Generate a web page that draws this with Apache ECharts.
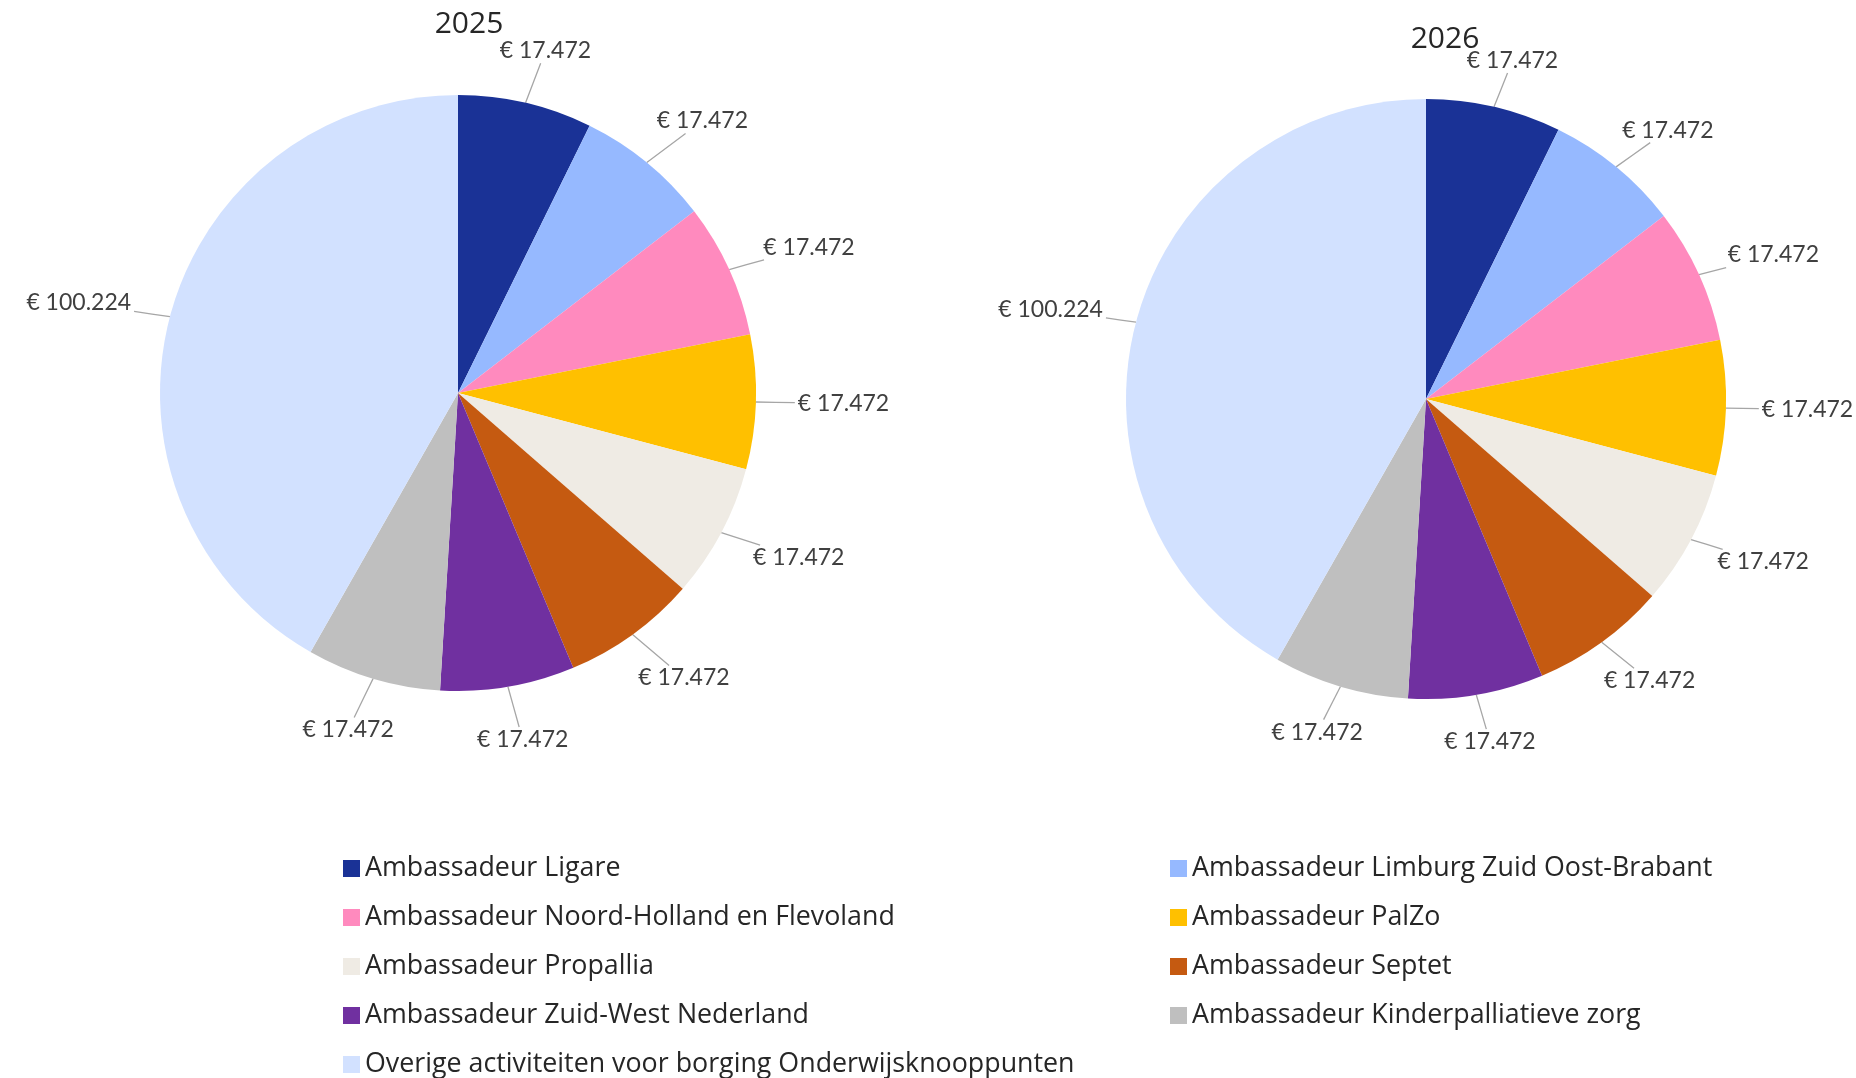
<!DOCTYPE html>
<html><head><meta charset="utf-8">
<script src="https://cdn.jsdelivr.net/npm/echarts@6/dist/echarts.min.js"></script>
<style>html,body{margin:0;padding:0;background:#fff;}#c{width:1856px;height:1078px;}</style>
</head><body><div id="c"></div>
<script>
const categories = [
  'Ambassadeur Ligare',
  'Ambassadeur Limburg Zuid Oost-Brabant',
  'Ambassadeur Noord-Holland en Flevoland',
  'Ambassadeur PalZo',
  'Ambassadeur Propallia',
  'Ambassadeur Septet',
  'Ambassadeur Zuid-West Nederland',
  'Ambassadeur Kinderpalliatieve zorg',
  'Overige activiteiten voor borging Onderwijsknooppunten'
];
const values2025 = [17472, 17472, 17472, 17472, 17472, 17472, 17472, 17472, 100224];
const values2026 = [17472, 17472, 17472, 17472, 17472, 17472, 17472, 17472, 100224];
const years = ['2025', '2026'];
const colors = ['#1A3296', '#96B9FF', '#FF8ABE', '#FFC000', '#EFEBE4', '#C55A11', '#7030A0', '#BFBFBF', '#D2E1FF'];

const LABEL_FONT = 'Lato';
const TEXT_FONT = 'Open Sans';
const pies = [
  { values: values2025, center: [458, 393], radius: 298, gap: 42 },
  { values: values2026, center: [1426, 399], radius: 300, gap: 36 }
];
function fmt(v) {
  return '€ ' + String(v).replace(/\B(?=(\d{3})+(?!\d))/g, '.');
}
function mkData(vals) {
  return categories.map((n, i) => ({ name: n, value: vals[i] }));
}
// Excel-like placement: label box just outside the slice's mid-angle, straight leader line.
function layoutFor(pie) {
  const total = pie.values.reduce((a, b) => a + b, 0);
  return function (params) {
    const i = params.dataIndex;
    let cum = 0;
    for (let k = 0; k < i; k++) cum += pie.values[k];
    const th = 2 * Math.PI * (cum + pie.values[i] / 2) / total;
    const s = Math.sin(th), c = -Math.cos(th);
    const w = params.labelRect.width, h = params.labelRect.height;
    const R = pie.radius + pie.gap;
    const lx = pie.center[0] + R * s + (w / 2) * s;
    const ly = pie.center[1] + R * c + (h / 2) * c;
    const p0 = [pie.center[0] + pie.radius * s, pie.center[1] + pie.radius * c];
    const dx = p0[0] - lx, dy = p0[1] - ly;
    const hw = w / 2 + 3, hh = h / 2 + 1;
    const t = Math.min(dx !== 0 ? hw / Math.abs(dx) : Infinity, dy !== 0 ? hh / Math.abs(dy) : Infinity);
    const p2 = [lx + dx * t, ly + dy * t];
    return {
      x: lx, y: ly, align: 'center', verticalAlign: 'middle',
      labelLinePoints: [p0, [(p0[0] + p2[0]) / 2, (p0[1] + p2[1]) / 2], p2]
    };
  };
}
const chart = echarts.init(document.getElementById('c'), null, { renderer: 'canvas' });
const labelCfg = {
  show: true, position: 'outside', color: '#404040', fontFamily: LABEL_FONT, fontSize: 23,
  overflow: 'none', formatter: p => fmt(p.value)
};
const legendBase = {
  orient: 'vertical', itemWidth: 17, itemHeight: 17, itemGap: 22, icon: 'rect', padding: 0,
  textStyle: { fontFamily: TEXT_FONT, fontSize: 26.8, lineHeight: 26.5, color: '#262626' },
  selectedMode: false
};
const titleStyle = { fontFamily: TEXT_FONT, fontSize: 30, fontWeight: 'normal', color: '#262626' };
chart.setOption({
  animation: false,
  color: colors,
  title: [
    { text: years[0], left: 464, top: 4, textAlign: 'center', textStyle: titleStyle },
    { text: years[1], left: 1440, top: 19, textAlign: 'center', textStyle: titleStyle }
  ],
  legend: [
    Object.assign({}, legendBase, { left: 343, top: 855, data: categories.filter((_, i) => i % 2 === 0) }),
    Object.assign({}, legendBase, { left: 1170, top: 855, data: categories.filter((_, i) => i % 2 === 1) })
  ],
  series: pies.map(pie => ({
    type: 'pie', center: pie.center, radius: [0, pie.radius], startAngle: 90, clockwise: true,
    data: mkData(pie.values), label: labelCfg,
    labelLine: { show: true, length: 20, length2: 0, lineStyle: { color: '#A6A6A6', width: 1.3 } },
    labelLayout: layoutFor(pie),
    emphasis: { disabled: true }, avoidLabelOverlap: false
  }))
});
</script></body></html>
